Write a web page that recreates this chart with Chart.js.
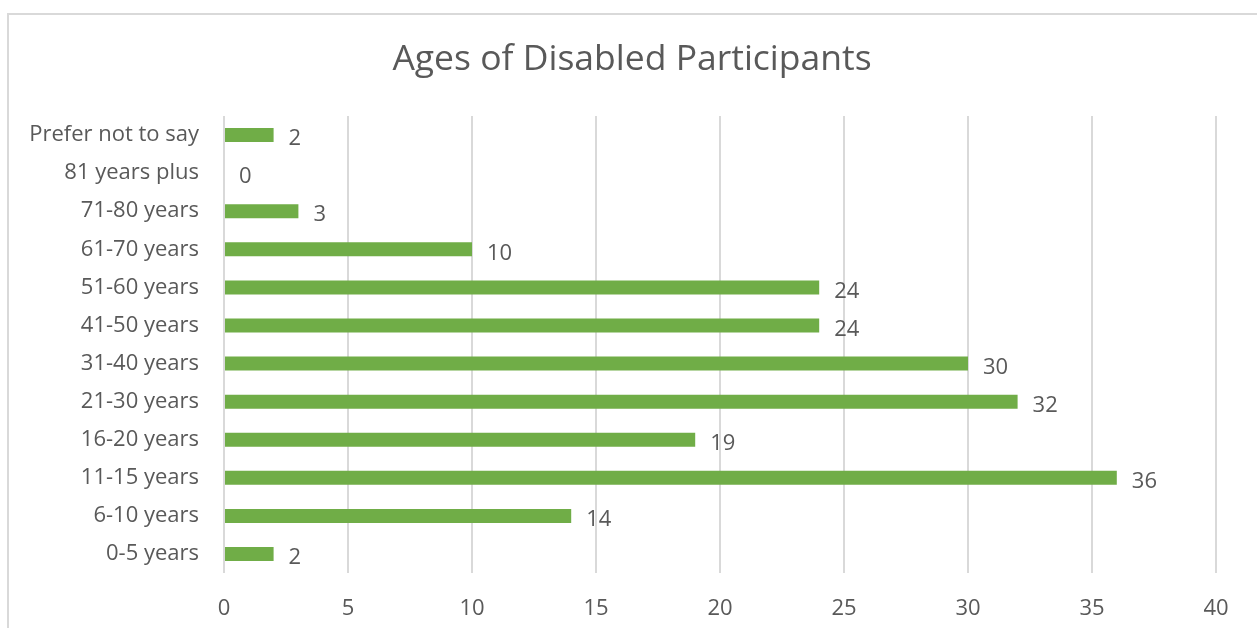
<!DOCTYPE html>
<html>
<head>
<meta charset="utf-8">
<title>Ages of Disabled Participants</title>
<script src="https://cdn.jsdelivr.net/npm/chart.js@4/dist/chart.umd.min.js"></script>
<style>
  html, body { margin: 0; padding: 0; background: #fff; overflow: hidden; }
  #wrap { position: relative; width: 1257px; height: 628px; }
  #frame { position: absolute; left: 7px; top: 13px; width: 1400px; height: 800px; border: 2px solid #d9d9d9; box-sizing: border-box; }
  #ages { position: absolute; left: 0; top: 0; }
</style>
</head>
<body>
<div id="wrap">
  <div id="frame"></div>
  <canvas id="ages" width="1257" height="628"></canvas>
</div>
<script>
// age groups, listed top to bottom
var ageGroups = ['Prefer not to say', '81 years plus', '71-80 years', '61-70 years', '51-60 years',
  '41-50 years', '31-40 years', '21-30 years', '16-20 years', '11-15 years', '6-10 years', '0-5 years'];
var participantCounts = [2, 0, 3, 10, 24, 24, 30, 32, 19, 36, 14, 2];
var axisMin = 0, axisMax = 40, axisStep = 5;
var chartTitle = 'Ages of Disabled Participants';

var textColor = '#595959';
var fontFamily = "'Open Sans', 'Noto Sans', sans-serif";

// write each count just past the end of its bar
var valueLabels = {
  id: 'valueLabels',
  afterDatasetsDraw: function (chart) {
    var ctx = chart.ctx;
    var meta = chart.getDatasetMeta(0);
    ctx.save();
    ctx.font = '22px ' + fontFamily;
    ctx.fillStyle = textColor;
    ctx.textAlign = 'left';
    ctx.textBaseline = 'middle';
    meta.data.forEach(function (bar, i) {
      ctx.fillText(String(participantCounts[i]), bar.x + 15, bar.y + 4);
    });
    ctx.restore();
  }
};

// title sits over the whole frame, a bit right of the canvas middle
var frameTitle = {
  id: 'frameTitle',
  afterDraw: function (chart) {
    var ctx = chart.ctx;
    ctx.save();
    ctx.font = '35.5px ' + fontFamily;
    ctx.fillStyle = textColor;
    ctx.textAlign = 'center';
    ctx.textBaseline = 'middle';
    ctx.fillText(chartTitle, 632, 60);
    ctx.restore();
  }
};

var agesChart = new Chart(document.getElementById('ages').getContext('2d'), {
  type: 'bar',
  data: {
    labels: ageGroups,
    datasets: [{
      data: participantCounts,
      backgroundColor: '#70ad47',
      barThickness: 14,
      inflateAmount: 0
    }]
  },
  options: {
    indexAxis: 'y',
    responsive: false,
    animation: false,
    layout: { padding: { left: 0, right: 41, top: 116, bottom: 0 } },
    plugins: {
      legend: { display: false },
      tooltip: { enabled: false },
      title: { display: false }
    },
    scales: {
      x: {
        min: axisMin,
        max: axisMax,
        ticks: { stepSize: axisStep, color: textColor, padding: 23, font: { family: fontFamily, size: 22 } },
        grid: { color: '#d9d9d9', lineWidth: 2, drawTicks: false },
        border: { display: false },
        afterFit: function (scale) { scale.height = 55; }
      },
      y: {
        ticks: { color: textColor, padding: 25, font: { family: fontFamily, size: 22 } },
        grid: { display: false, drawTicks: false },
        border: { display: false },
        afterFit: function (scale) { scale.width = 224; }
      }
    }
  },
  plugins: [valueLabels, frameTitle]
});
</script>
</body>
</html>
